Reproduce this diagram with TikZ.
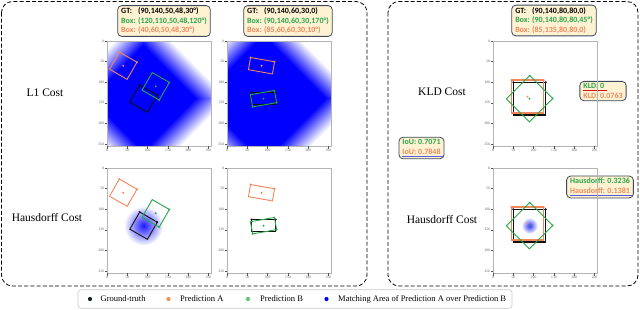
\documentclass[tikz,border=0pt]{standalone}
\usepackage{fontspec}
\setmainfont{Liberation Serif}
\newfontfamily\boxfont{Carlito}
\definecolor{gtc}{HTML}{111111}
\definecolor{pac}{HTML}{F0875A}
\definecolor{pbc}{HTML}{26A844}
\definecolor{txtgreen}{HTML}{2AA54A}
\definecolor{txtorange}{HTML}{EE8A5E}
\definecolor{boxfill}{HTML}{FEF2D2}
\definecolor{boxedge}{HTML}{3C4A5C}
\definecolor{legblack}{HTML}{0E2A1C}
\definecolor{leggreen}{HTML}{66C47A}
\definecolor{legorange}{HTML}{F39062}
\definecolor{leggray}{HTML}{C8C8C8}
\definecolor{ulblue}{HTML}{5A5AE6}
\definecolor{ulred}{HTML}{E01010}
\definecolor{framegray}{HTML}{B4B4B4}
\definecolor{tickgray}{HTML}{555555}
\tikzset{
  dashborder/.style={draw=black, line width=0.8pt, dash pattern=on 4pt off 2.2pt, rounded corners=11pt},
  framec/.style={draw=framegray, line width=0.5pt},
  tickc/.style={draw=tickgray, line width=0.3pt},
  ticklab/.style={font=\fontsize{3.6}{3.6}\selectfont, text=tickgray, inner sep=0.4pt},
  costlabel/.style={font=\fontsize{11.5}{12}\selectfont, text=black, inner sep=0pt},
  infobox/.style={draw=boxedge, fill=boxfill, rounded corners=4pt, line width=0.8pt,
    font=\boxfont\bfseries\fontsize{8}{9.6}\selectfont, align=left, inner xsep=3.5pt, inner ysep=2.2pt},
  legtext/.style={font=\fontsize{8.5}{9}\selectfont, anchor=west, inner sep=0pt},
  legbox/.style={draw=leggray, line width=0.6pt, rounded corners=3pt},
  plotarea/.style={x=0.406pt, y=-0.412pt},
}
% rotated box: [line width]{colour}{cx}{cy}{w}{h}{angle}
\newcommand{\rbox}[7][0.9pt]{%
  \begin{scope}[shift={(#3,#4)}, rotate=-#7]
    \draw[#2, line width=#1] (-#5/2,-#6/2) rectangle (#5/2,#6/2);
    \fill[#2] (-#5/2,-#6/2) circle[radius=1.1pt] (#5/2,-#6/2) circle[radius=1.1pt];
  \end{scope}}
\newcommand{\ctrdot}[3]{\fill[#1] (#2,#3) circle[radius=1.1pt];}
\newcommand{\plotaxes}{%
  \draw[framec] (0,0) rectangle (256,256);
  \foreach \t in {0,50,100,150,200,250}{
    \draw[tickc] (\t,256) -- (\t,262);
    \node[ticklab, anchor=north] at (\t,262) {\t};
    \draw[tickc] (0,\t) -- (-6,\t);
    \node[ticklab, anchor=east] at (-6,\t) {\t};
  }}
% diamond heat map: {cx}{cy}{R solid}{R fade}
\newcommand{\heatdiamond}[4]{%
  \foreach \i in {0,...,20}{
    \pgfmathsetmacro{\hrad}{#4-(#4-#3)*\i/20}
    \pgfmathsetmacro{\hpct}{5*\i}
    \fill[blue!\hpct!white] (#1-\hrad,#2) -- (#1,#2-\hrad) -- (#1+\hrad,#2) -- (#1,#2+\hrad) -- cycle;
  }}
\newcommand{\myul}[2]{\setbox0\hbox{#2}\rlap{\color{#1}\rule[-2.2pt]{\dimexpr\wd0+3pt\relax}{1pt}}\box0}
\begin{document}
\begin{tikzpicture}[x=1pt,y=-1pt]
\useasboundingbox (0,0) rectangle (640,309);
\fill[white] (0,0) rectangle (640,309);
% panels
\draw[dashborder] (1.5,1.5) rectangle (367,286);
\draw[dashborder] (388,1.5) rectangle (638,286);
% labels
\node[costlabel] (l1cost) at (45,93) {L1 Cost};
\node[costlabel] (hdcostl) at (47,218) {Hausdorff Cost};
\node[costlabel] (kldcost) at (442,92) {KLD Cost};
\node[costlabel] (hdcostr) at (442,220) {Hausdorff Cost};
% info boxes
\node[infobox] (info1) at (164,21) {\rlap{GT:}\phantom{Box: }(90,140,50,48,30°)\\
  \textcolor{txtgreen}{Box: (120,110,50,48,120°)}\\
  \textcolor{txtorange}{Box: (40,60,50,48,30°)}};
\node[infobox] (info2) at (288,21) {\rlap{GT:}\phantom{Box: }(90,140,60,30,0)\\
  \textcolor{txtgreen}{Box: (90,140,60,30,170°)}\\
  \textcolor{txtorange}{Box: (85,60,60,30,10°)}};
\node[infobox] (info3) at (554,20.5) {\rlap{GT:}\phantom{Box: }(90,140,80,80,0)\\
  \textcolor{txtgreen}{Box: (90,140,80,80,45°)}\\
  \textcolor{txtorange}{Box: (85,135,80,80,0)}};
\node[infobox] (kld) at (603,91) {\textcolor{txtgreen}{\myul{ulred}{KLD: 0}}\\
  \textcolor{txtorange}{KLD: 0.0763}};
\node[infobox] (iou) at (421.5,148) {\textcolor{txtgreen}{IoU: 0.7071}\\
  \textcolor{txtorange}{\myul{ulblue}{IoU: 0.7848}}};
\node[infobox] (hd) at (600,187) {\textcolor{txtgreen}{Hausdorff: 0.3236}\\
  \textcolor{txtorange}{\myul{ulblue}{Hausdorff: 0.1381}}};
% P1
\begin{scope}[shift={(107pt,-41pt)}, plotarea]
  \begin{scope}\clip (0,0) rectangle (256,256); \heatdiamond{90}{140}{130}{210}\end{scope}
  \plotaxes
  \rbox{gtc}{90}{140}{50}{48}{30}
  \rbox{pac}{40}{60}{50}{48}{30}
  \rbox{pbc}{120}{110}{50}{48}{120}
  \ctrdot{pac}{40}{60}\ctrdot{pbc}{120}{110}
\end{scope}
% P2
\begin{scope}[shift={(227pt,-41pt)}, plotarea]
  \begin{scope}\clip (0,0) rectangle (256,256); \heatdiamond{90}{140}{155}{235}\end{scope}
  \plotaxes
  \rbox{gtc}{90}{140}{60}{30}{0}
  \rbox{pac}{85}{60}{60}{30}{10}
  \rbox{pbc}{90}{140}{60}{30}{170}
  \ctrdot{pac}{85}{60}\ctrdot{pbc}{90}{140}
\end{scope}
% P3
\begin{scope}[shift={(107pt,-168pt)}, plotarea]
  \shade[inner color=blue!90, outer color=white] (90,140) circle[radius=48];
  \plotaxes
  \rbox{gtc}{90}{140}{50}{48}{30}
  \rbox{pac}{40}{60}{50}{48}{30}
  \rbox{pbc}{120}{110}{50}{48}{120}
  \ctrdot{pac}{40}{60}\ctrdot{pbc}{120}{110}
\end{scope}
% P4
\begin{scope}[shift={(227pt,-168pt)}, plotarea]
  \plotaxes
  \rbox{gtc}{90}{140}{60}{30}{0}
  \rbox{pac}{85}{60}{60}{30}{10}
  \rbox{pbc}{90}{140}{60}{30}{170}
  \ctrdot{pac}{85}{60}\ctrdot{pbc}{90}{140}
\end{scope}
% P5
\begin{scope}[shift={(493pt,-41pt)}, plotarea]
  \plotaxes
  \rbox[1.4pt]{gtc}{90}{140}{80}{80}{0}
  \rbox[1.4pt]{pac}{85}{135}{80}{80}{0}
  \rbox{pbc}{90}{140}{80}{80}{45}
  \ctrdot{pac}{85}{135}\ctrdot{pbc}{90}{140}
\end{scope}
% P6
\begin{scope}[shift={(493pt,-168pt)}, plotarea]
  \shade[inner color=blue!80, outer color=white] (90,140) circle[radius=20];
  \plotaxes
  \rbox[1.4pt]{gtc}{90}{140}{80}{80}{0}
  \rbox[1.4pt]{pac}{85}{135}{80}{80}{0}
  \rbox{pbc}{90}{140}{80}{80}{45}
  \ctrdot{pac}{85}{135}\ctrdot{pbc}{90}{140}
\end{scope}
% legend
\node[legbox, minimum width=434pt, minimum height=18.5pt] (legend) at (295,299) {};
\fill[legblack] (90,299) circle[radius=2.1pt];
\node[legtext] (lg1) at (100.5,299) {Ground-truth};
\fill[legorange] (168.5,299) circle[radius=2.1pt];
\node[legtext] (lg2) at (180,299) {Prediction A};
\fill[leggreen] (248,299) circle[radius=2.1pt];
\node[legtext] (lg3) at (260,299) {Prediction B};
\fill[blue] (326.5,299) circle[radius=2.1pt];
\node[legtext] (lg4) at (338,299) {Matching Area of Prediction A over Prediction B};
\end{tikzpicture}
\end{document}
